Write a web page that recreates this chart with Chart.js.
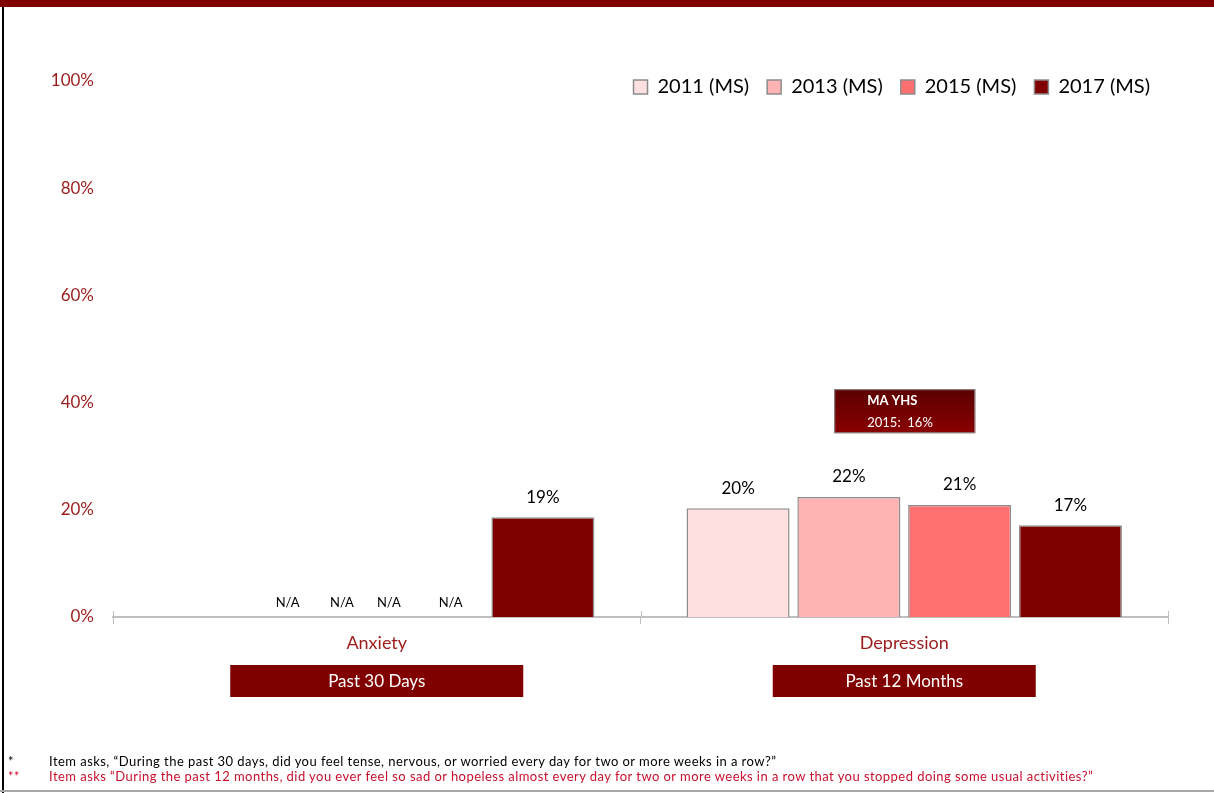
<!DOCTYPE html>
<html>
<head>
<meta charset="utf-8">
<script src="https://cdn.jsdelivr.net/npm/chart.js@4.4.1/dist/chart.umd.min.js"></script>
<style>
    html, body { margin: 0; padding: 0; background: #fff; }
    body { width: 1214px; height: 793px; position: relative; overflow: hidden; font-family: Lato, "Open Sans", sans-serif; }
    #top_bar { position: absolute; left: 0; top: 0; width: 1214px; height: 7px; background: #800000; }
    #left_line { position: absolute; left: 2px; top: 7px; width: 2px; height: 786px; background: #000; }
    #bottom_line { position: absolute; left: 0; top: 790px; width: 1214px; height: 2px; background: #a6a6a6; }
    #chart_box { position: absolute; left: 0; top: 0; width: 1214px; height: 793px; }
    .note { position: absolute; left: 8px; font-size: 13px; letter-spacing: 0.45px; font-family: Lato, "Open Sans", sans-serif; white-space: nowrap; }
    .note span { position: absolute; left: 41px; }
    #note1 { top: 753px; color: #000; }
    #note2 { top: 768px; color: #c8102e; }
</style>
</head>
<body>
<div id="chart_box"><canvas id="risk_chart" width="1214" height="793"></canvas></div>
<div id="top_bar"></div>
<div id="left_line"></div>
<div id="bottom_line"></div>
<div class="note" id="note1">*<span>Item asks, “During the past 30 days, did you feel tense, nervous, or worried every day for two or more weeks in a row?”</span></div>
<div class="note" id="note2">**<span>Item asks “During the past 12 months, did you ever feel so sad or hopeless almost every day for two or more weeks in a row that you stopped doing some usual activities?”</span></div>

<script>
// データ
const categories   = ["Anxiety", "Depression"];
const periods      = ["Past 30 Days", "Past 12 Months"];
const series_names = ["2011 (MS)", "2013 (MS)", "2015 (MS)", "2017 (MS)"];
const ms_2011      = [null, 20.3];
const ms_2013      = [null, 22.4];
const ms_2015      = [null, 20.9];
const ms_2017      = [18.6, 17.1];
const y_ticks      = [0, 20, 40, 60, 80, 100];
const na_text      = "N/A";
const benchmark    = ["MA YHS", "2015:  16%"];

const bar_colors   = ["#ffe0e0", "#ffb3b3", "#ff7070", "#800000"];
const dark_red     = "#800000";
const label_red    = "#9c1c1c";
const font_name    = "Lato, 'Open Sans', sans-serif";

// 注記・ラベル描画
const extra_labels = {
    id: "extra_labels",
    afterLayout(chart) {
        // 凡例をプロット領域の中へ下げる
        const shift = chart.chartArea.top - 22 - chart.legend.top;
        chart.legend.top += shift;
        chart.legend.bottom += shift;
    },
    afterDatasetsDraw(chart) {
        const ctx  = chart.ctx;
        const xs   = chart.scales.x;
        const ys   = chart.scales.y;
        const area = chart.chartArea;
        const cat_w = (area.right - area.left) / categories.length;

        ctx.save();
        ctx.textAlign = "center";
        ctx.textBaseline = "middle";

        // 値ラベル
        ctx.font = "17px " + font_name;
        ctx.fillStyle = "#000";
        chart.data.datasets.forEach((ds, i) => {
            const meta = chart.getDatasetMeta(i);
            meta.data.forEach((bar, j) => {
                if (ds.data[j] === null) return;
                ctx.fillText(Math.round(ds.data[j]) + "%", bar.x, bar.y - 20);
            });
        });

        // N/A
        ctx.font = "13px " + font_name;
        const na_offsets = [-0.169, -0.066, 0.023, 0.14];
        const cx0 = xs.getPixelForValue(0);
        for (let o of na_offsets) {
            ctx.fillText(na_text, cx0 + o * cat_w, area.bottom - 14);
        }

        // 軸の目盛り（上側）
        ctx.strokeStyle = "#bfbfbf";
        ctx.lineWidth = 1;
        for (let k = 0; k <= categories.length; k++) {
            const tx = Math.round(area.left + k * cat_w) + 0.5;
            ctx.beginPath();
            ctx.moveTo(tx, area.bottom - 6);
            ctx.lineTo(tx, area.bottom);
            ctx.stroke();
        }

        // 期間ボックス
        const box_w = [293, 263];
        ctx.font = "17px " + font_name;
        periods.forEach((p, i) => {
            const cx = xs.getPixelForValue(i);
            ctx.fillStyle = dark_red;
            ctx.fillRect(cx - box_w[i] / 2, area.bottom + 48, box_w[i], 32);
            ctx.fillStyle = "#fff";
            ctx.fillText(p, cx, area.bottom + 65);
        });

        // MA YHS
        const bx = xs.getPixelForValue(1);
        const by = ys.getPixelForValue(42.5);
        const grad = ctx.createLinearGradient(0, by, 0, by + 44);
        grad.addColorStop(0, "#5c0000");
        grad.addColorStop(1, "#8a0000");
        ctx.fillStyle = grad;
        ctx.fillRect(bx - 70, by, 141, 44);
        ctx.strokeStyle = "#8c8c8c";
        ctx.lineWidth = 1;
        ctx.strokeRect(bx - 70 + 0.5, by + 0.5, 140, 43);
        ctx.fillStyle = "#fff";
        ctx.textAlign = "left";
        ctx.font = "bold 13px " + font_name;
        ctx.fillText(benchmark[0], bx - 37, by + 12);
        ctx.font = "13px " + font_name;
        ctx.fillText(benchmark[1], bx - 37, by + 34);

        ctx.restore();
    }
};

window.addEventListener("load", function () {
    const sets = [ms_2011, ms_2013, ms_2015, ms_2017].map((d, i) => ({
        label: series_names[i],
        data: d,
        backgroundColor: bar_colors[i],
        borderColor: "#8c8c8c",
        borderWidth: 1.5,
        categoryPercentage: 0.84,
        barPercentage: 0.93
    }));

    const ctx = document.getElementById("risk_chart").getContext("2d");
    new Chart(ctx, {
        type: "bar",
        data: { labels: categories, datasets: sets },
        plugins: [extra_labels],
        options: {
            responsive: false,
            animation: false,
            events: [],
            layout: { padding: { top: 33, right: 46, bottom: 46, left: 0 } },
            scales: {
                x: {
                    grid: { display: true, drawOnChartArea: false, color: "#bfbfbf", tickLength: 7, lineWidth: 1 },
                    border: { display: true, color: "#bfbfbf", width: 2 },
                    ticks: { color: label_red, font: { family: font_name, size: 18 }, padding: 8 },
                    afterFit(scale) { scale.height = 130; }
                },
                y: {
                    min: 0,
                    max: 100,
                    afterBuildTicks(scale) { scale.ticks = y_ticks.map(v => ({ value: v })); },
                    grid: { display: false, drawTicks: false },
                    border: { display: false },
                    ticks: {
                        color: label_red,
                        font: { family: font_name, size: 17 },
                        padding: 19,
                        callback: (v) => v + "%"
                    },
                    afterFit(scale) { scale.width = 113; }
                }
            },
            plugins: {
                legend: {
                    position: "top",
                    align: "end",
                    labels: {
                        color: "#000",
                        boxWidth: 14,
                        boxHeight: 14,
                        padding: 18,
                        font: { family: font_name, size: 20 }
                    }
                },
                tooltip: { enabled: false }
            }
        }
    });
});
</script>
</body>
</html>
